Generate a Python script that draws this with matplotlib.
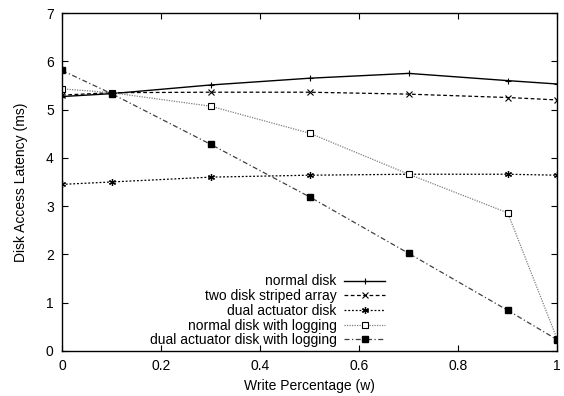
import matplotlib
matplotlib.use("Agg")
import matplotlib.pyplot as plt

plt.rcParams['font.family'] = ['Liberation Sans', 'DejaVu Sans']

write_pct = [0.0, 0.1, 0.3, 0.5, 0.7, 0.9, 1.0]
normal_disk = [5.27, 5.33, 5.51, 5.65, 5.75, 5.60, 5.53]
striped_array = [5.30, 5.35, 5.36, 5.36, 5.32, 5.25, 5.20]
dual_actuator = [3.45, 3.50, 3.60, 3.64, 3.66, 3.66, 3.64]
normal_logging = [5.43, 5.35, 5.07, 4.51, 3.66, 2.86, 0.24]
dual_logging = [5.81, 5.33, 4.28, 3.19, 2.02, 0.84, 0.23]

series_labels = ["normal disk", "two disk striped array", "dual actuator disk",
                 "normal disk with logging", "dual actuator disk with logging"]

fig = plt.figure(figsize=(5.64, 3.96), dpi=100)
ax = fig.add_axes([0.110, 0.114, 0.878, 0.853])

ax.plot(write_pct, normal_disk, color='black', lw=1.0, ls='-',
        marker='+', ms=5, mew=0.8, label=series_labels[0])
ax.plot(write_pct, striped_array, color='black', lw=0.9, ls=(0, (3, 2)),
        marker='x', ms=4, mew=0.8, label=series_labels[1])
ax.plot(write_pct, dual_actuator, color='black', lw=0.9, ls=(0, (1.5, 1.5)),
        marker=(6, 2, 0), ms=5, mew=0.9, label=series_labels[2])
ax.plot(write_pct, normal_logging, color='#808080', lw=0.9, ls=(0, (1, 1)),
        marker='s', ms=4.5, mfc='white', mec='black', mew=0.8, label=series_labels[3])
ax.plot(write_pct, dual_logging, color='#404040', lw=0.9, ls=(0, (4, 2, 1, 2)),
        marker='s', ms=5, mfc='black', mec='black', label=series_labels[4])

ax.set_xlim(0, 1)
ax.set_ylim(0, 7)
ax.set_xticks([0, 0.2, 0.4, 0.6, 0.8, 1])
ax.set_xticklabels(["0", "0.2", "0.4", "0.6", "0.8", "1"])
ax.set_yticks(range(0, 8))
ax.tick_params(direction='in', top=True, right=True, length=4, width=0.8,
               labelsize=10, pad=6)
for s in ax.spines.values():
    s.set_linewidth(1.0)

ax.set_xlabel("Write Percentage (w)", fontsize=10, labelpad=4)
ax.set_ylabel("Disk Access Latency (ms)", fontsize=10, labelpad=13)

ax.legend(loc='lower right', bbox_to_anchor=(0.670, -0.014), frameon=False,
          markerfirst=False, fontsize=10, handlelength=3.0, handletextpad=0.5,
          labelspacing=0.05, borderaxespad=0.2)

fig.savefig("out.png", dpi=100)
